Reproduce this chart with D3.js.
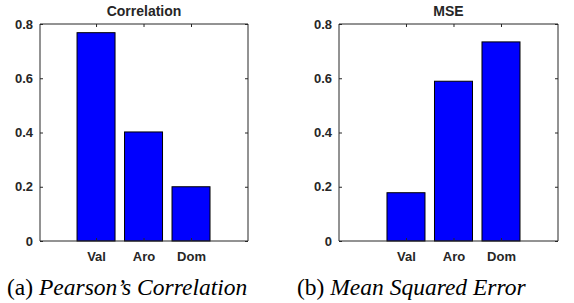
<!DOCTYPE html>
<html>
<head>
<meta charset="utf-8">
<script src="https://cdn.jsdelivr.net/npm/d3@7/dist/d3.min.js"></script>
<style>
  body { margin: 0; background: #fff; }
  svg text { font-family: "Liberation Sans", Arial, sans-serif; font-weight: bold; fill: #262626; }
  .cap { font-family: "Liberation Serif", "Times New Roman", serif; font-weight: normal; fill: #000; }
</style>
</head>
<body>
<div id="chart"></div>
<script>
let categories = ["Val", "Aro", "Dom"]
let corrValues = [0.768, 0.402, 0.200]
let mseValues = [0.178, 0.589, 0.734]
let yTicks = [0, 0.2, 0.4, 0.6, 0.8]
let titles = ["Correlation", "MSE"]
let captions = [["(a) ", "Pearson\u2019s Correlation"], ["(b) ", "Mean Squared Error"]]

let svg = d3.select("#chart").append("svg")
    .attr("width", 574)
    .attr("height", 303)

let panels = [
    { values: corrValues, left: 40, right: 248, xlim: [-0.18, 4.2], title: titles[0], cap: captions[0], capX: 7 },
    { values: mseValues, left: 339, right: 558, xlim: [-0.41, 4.2], title: titles[1], cap: captions[1], capX: 297 }
]

let plotTop = 24, plotBottom = 241

panels.forEach(p => {
    let x = d3.scaleLinear().domain(p.xlim).range([p.left, p.right])
    let y = d3.scaleLinear().domain([0, 0.8]).range([plotBottom, plotTop])
    let g = svg.append("g")
    let bw = x(0.8) - x(0)

    g.selectAll("rect.bar")
        .data(p.values)
        .join("rect")
        .attr("class", "bar")
        .attr("x", (d, i) => x(i + 1) - bw / 2)
        .attr("width", bw)
        .attr("y", d => y(d))
        .attr("height", d => y(0) - y(d))
        .attr("fill", "#0000ff")
        .attr("stroke", "#000")
        .attr("stroke-width", 1)

    // box with inward ticks
    let yl = g.append("g").attr("transform", `translate(${p.left},0)`)
        .call(d3.axisLeft(y).tickValues(yTicks).tickSize(-3).tickPadding(7).tickFormat(d => d === 0 ? "0" : d3.format(".1f")(d)))
    let yr = g.append("g").attr("transform", `translate(${p.right},0)`)
        .call(d3.axisRight(y).tickValues(yTicks).tickSize(-3).tickFormat(""))
    let xb = g.append("g").attr("transform", `translate(0,${plotBottom})`)
        .call(d3.axisBottom(x).tickValues([1, 2, 3]).tickSize(-3).tickPadding(11).tickFormat((d, i) => categories[i]))
    let xt = g.append("g").attr("transform", `translate(0,${plotTop})`)
        .call(d3.axisTop(x).tickValues([1, 2, 3]).tickSize(-3).tickFormat(""))

    ;[yl, yr, xb, xt].forEach(a => {
        a.select(".domain").attr("stroke", "#262626")
        a.selectAll(".tick line").attr("stroke", "#262626")
        a.selectAll("text").attr("font-size", 13).attr("font-family", null).attr("fill", "#262626")
    })
    yl.select(".domain").attr("d", `M0,${plotTop}V${plotBottom}`)
    yr.select(".domain").attr("d", `M0,${plotTop}V${plotBottom}`)
    xb.select(".domain").attr("d", `M${p.left},0H${p.right}`)
    xt.select(".domain").attr("d", `M${p.left},0H${p.right}`)

    g.append("text")
        .attr("x", (p.left + p.right) / 2)
        .attr("y", 16)
        .attr("text-anchor", "middle")
        .attr("font-size", 14)
        .attr("fill", "#000")
        .text(p.title)

    let c = svg.append("text")
        .attr("class", "cap")
        .attr("x", p.capX)
        .attr("y", 295)
        .attr("font-size", 23.5)
    c.append("tspan").text(p.cap[0])
    c.append("tspan").attr("font-style", "italic").text(p.cap[1])
})
</script>
</body>
</html>
